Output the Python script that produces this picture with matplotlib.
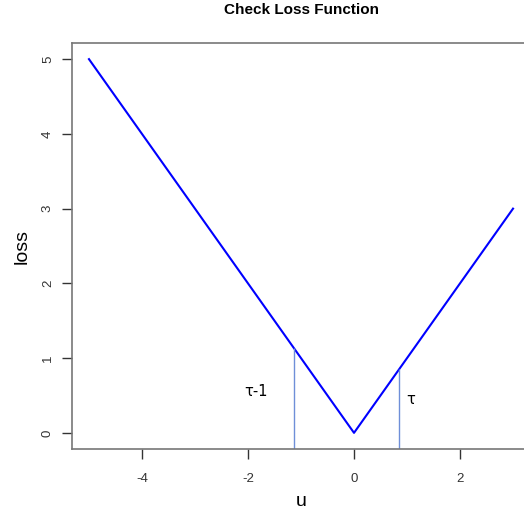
import matplotlib
matplotlib.use("Agg")
import matplotlib.pyplot as plt

u = [-5, 0, 3]
loss = [5, 0, 3]
marks_u = [-1.13, 0.85]
marks_loss = [1.13, 0.85]
mark_labels = ["τ-1", "τ"]
label_pos_u = [-1.85, 1.07]
label_pos_loss = [0.56, 0.44]
xticks = [-4, -2, 0, 2]
yticks = [0, 1, 2, 3, 4, 5]

plt.rcParams['font.family'] = ['Liberation Sans', 'DejaVu Sans']
fig = plt.figure(figsize=(5.24, 5.12), dpi=100)
ax = fig.add_axes([72/524, 63/512, 458/524, 406/512])
ax.plot(u, loss, color='#0000FF', lw=1.5)
ax.set_xlim(-5.32, 3.32)
ax.set_ylim(-0.216, 5.216)
ax.vlines(marks_u, -0.216, marks_loss, color='#6F8FD8', lw=1.0)
for t, x, y in zip(mark_labels, label_pos_u, label_pos_loss):
    ax.text(x, y, t, ha='center', va='center', fontsize=10.5, family=['DejaVu Sans'])
ax.set_xticks(xticks)
ax.set_yticks(yticks)
ax.set_xticklabels([str(v) for v in xticks], fontsize=9.5, color='#333333')
ax.set_yticklabels([str(v) for v in yticks], fontsize=9.5, color='#333333', rotation=90, va='center')
ax.tick_params(axis='x', direction='out', length=7, width=1, color='#333333', pad=10)
ax.tick_params(axis='y', direction='out', length=7, width=1, color='#333333', pad=6)
for s in ax.spines.values():
    s.set_color('#777777')
    s.set_linewidth(1.2)
ax.set_xlabel('u', fontsize=14, labelpad=6)
ax.set_ylabel('loss', fontsize=14, labelpad=8)
fig.text(0.575, 0.981, 'Check Loss Function', ha='center', va='center', fontsize=11, fontweight='bold')
fig.savefig('out.png', dpi=100)
